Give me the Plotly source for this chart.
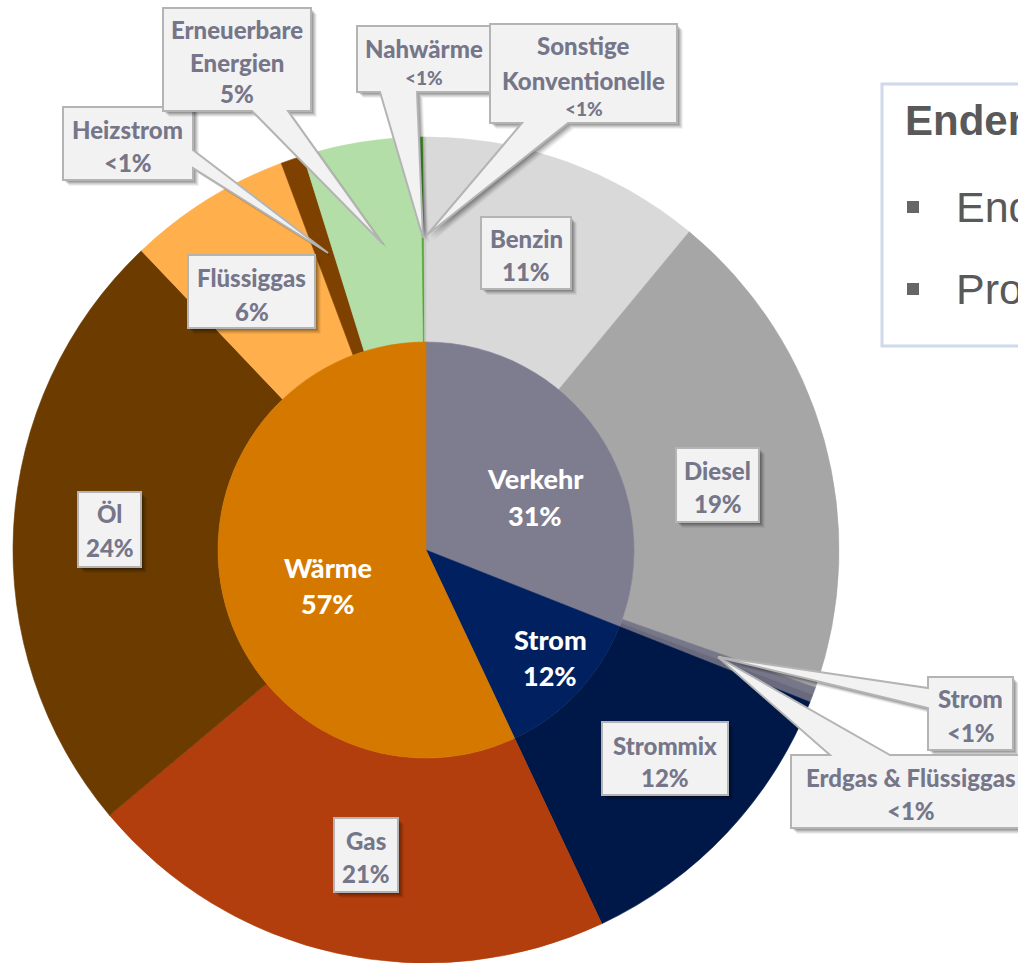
import plotly.graph_objects as go

# ---- data -------------------------------------------------------------
sectors = ["Verkehr", "Strom", "Wärme"]
sector_colors = ["#7e7c8f", "#002060", "#d47800"]

carriers = ["Benzin", "Diesel", "Strom", "Erdgas & Flüssiggas",
            "Strommix",
            "Gas", "Öl", "Flüssiggas", "Heizstrom", "Erneuerbare Energien",
            "Nahwärme", "Sonstige Konventionelle"]
carrier_sector = ["Verkehr", "Verkehr", "Verkehr", "Verkehr",
                  "Strom",
                  "Wärme", "Wärme", "Wärme", "Wärme", "Wärme",
                  "Wärme", "Wärme"]
carrier_share = [11.0, 19.4, 0.3, 0.3,
                 12.0,
                 20.9, 24.0, 6.4, 0.9, 4.6,
                 0.1, 0.1]
carrier_colors = ["#d9d9d9", "#a6a6a6", "#77778a", "#6a6a7e",
                  "#001848",
                  "#b13e0c", "#6b3b00", "#ffb04c", "#7f4100", "#b3dea8",
                  "#4ea72e", "#c9c9c9"]

sector_share = [sum(v for v, p in zip(carrier_share, carrier_sector) if p == s)
                for s in sectors]


def pct(v):
    return "<1%" if v < 1 else f"{round(v)}%"


# ---- geometry (pixels) ------------------------------------------------
W, H = 1018, 963
CX, CY = 426, 550
R_OUT, R_IN = 413, 208


def px(x, y):
    return x / W, 1 - y / H


fig = go.Figure()

fig.add_trace(go.Pie(
    labels=carriers, values=carrier_share, sort=False,
    direction="clockwise", rotation=0, hole=R_IN / R_OUT,
    marker=dict(colors=carrier_colors,
                line=dict(color=carrier_colors, width=0.6)),
    textinfo="none", hoverinfo="label+percent", showlegend=False,
    domain=dict(x=[(CX - R_OUT) / W, (CX + R_OUT) / W],
                y=[(H - CY - R_OUT) / H, (H - CY + R_OUT) / H]),
))

fig.add_trace(go.Pie(
    labels=sectors, values=sector_share, sort=False,
    direction="clockwise", rotation=0,
    marker=dict(colors=sector_colors,
                line=dict(color=sector_colors, width=0.6)),
    textinfo="none", hoverinfo="label+percent", showlegend=False,
    domain=dict(x=[(CX - R_IN) / W, (CX + R_IN) / W],
                y=[(H - CY - R_IN) / H, (H - CY + R_IN) / H]),
))

shapes = []
annotations = []

LABEL_FONT = "Lato, 'Open Sans', sans-serif"
LABEL_COLOR = "#76768a"

# white labels on the inner ring
inner_pos = {"Verkehr": (535, 478, 515), "Strom": (550, 639, 675),
             "Wärme": (328, 567, 603)}
for name, val in zip(sectors, sector_share):
    x, y1, y2 = inner_pos[name]
    for txt, yy in ((name, y1), (pct(val), y2)):
        ax, ay = px(x, yy)
        annotations.append(dict(
            x=ax, y=ay, xref="paper", yref="paper", text=txt,
            showarrow=False, xanchor="center", yanchor="middle",
            font=dict(family=LABEL_FONT, size=27, color="white", weight=900)))

# callout boxes: box (x0, y0, x1, y1), text line centres, optional pointer
callouts = {
    "Benzin": dict(box=(481, 217, 571, 289), lines=(238, 271)),
    "Diesel": dict(box=(676, 448, 759, 522), lines=(471, 503)),
    "Strommix": dict(box=(602, 722, 728, 795), lines=(745, 777)),
    "Gas": dict(box=(334, 818, 398, 892), lines=(840, 873)),
    "Öl": dict(box=(78, 492, 141, 567), lines=(513, 547)),
    "Flüssiggas": dict(box=(188, 255, 315, 328), lines=(278, 311)),
    "Heizstrom": dict(box=(63, 107, 193, 180), lines=(129, 162),
                      tail=("right", 150, 168, (328, 253))),
    "Erneuerbare Energien": dict(box=(163, 8, 311, 111), lines=(29, 62, 94),
                                 wrap=True,
                                 tail=("bottom", 252, 288, (382, 243))),
    "Nahwärme": dict(box=(357, 26, 490, 92), lines=(48, 77), small=True,
                     tail=("bottom", 380, 417, (423, 238))),
    "Sonstige Konventionelle": dict(box=(490, 24, 677, 123),
                                    lines=(46, 80, 108), small=True, wrap=True,
                                    tail=("bottom", 522, 568, (427, 235))),
    "Strom": dict(box=(928, 677, 1013, 750), lines=(698, 732),
                  tail=("left", 688, 708, (718, 657))),
    "Erdgas & Flüssiggas": dict(box=(791, 755, 1030, 828), lines=(777, 810),
                                tail=("top", 830, 890, (718, 657))),
}


def callout_path(spec, dx=0, dy=0):
    x0, y0, x1, y1 = spec["box"]
    pts = [(x0, y0), (x1, y0), (x1, y1), (x0, y1)]
    tail = spec.get("tail")
    if tail:
        side, a, b, (tx, ty) = tail
        if side == "bottom":
            pts = [(x0, y0), (x1, y0), (x1, y1), (b, y1), (tx, ty), (a, y1), (x0, y1)]
        elif side == "top":
            pts = [(x0, y0), (a, y0), (tx, ty), (b, y0), (x1, y0), (x1, y1), (x0, y1)]
        elif side == "right":
            pts = [(x0, y0), (x1, y0), (x1, a), (tx, ty), (x1, b), (x1, y1), (x0, y1)]
        elif side == "left":
            pts = [(x0, y0), (x1, y0), (x1, y1), (x0, y1), (x0, b), (tx, ty), (x0, a)]
    coords = [px(x + dx, y + dy) for x, y in pts]
    return "M" + " L".join(f"{a:.5f},{b:.5f}" for a, b in coords) + " Z"


for name, val in zip(carriers, carrier_share):
    spec = callouts[name]
    # soft drop shadow
    for off, alpha in ((6, 0.05), (5, 0.07), (4, 0.09), (3, 0.11), (2, 0.12)):
        shapes.append(dict(type="path", xref="paper", yref="paper",
                           path=callout_path(spec, off, off),
                           fillcolor=f"rgba(0,0,0,{alpha})",
                           line=dict(width=0), layer="above"))
    shapes.append(dict(type="path", xref="paper", yref="paper",
                       path=callout_path(spec), fillcolor="#f2f2f2",
                       line=dict(color="#b4b4b4", width=2), layer="above"))
    words = name.split(" ") if spec.get("wrap") else [name]
    texts = words + [pct(val)]
    cx = (spec["box"][0] + spec["box"][2]) / 2
    for i, (txt, yy) in enumerate(zip(texts, spec["lines"])):
        is_val = i == len(texts) - 1
        size = 19 if (is_val and spec.get("small")) else 24
        ax, ay = px(cx, yy)
        annotations.append(dict(
            x=ax, y=ay, xref="paper", yref="paper", text=txt,
            showarrow=False, xanchor="center", yanchor="middle",
            font=dict(family=LABEL_FONT, size=size, color=LABEL_COLOR,
                      weight=900)))

# text panel at the right edge
bx0, by0 = px(882, 84)
bx1, by1 = px(1040, 346)
shapes.append(dict(type="rect", xref="paper", yref="paper",
                   x0=bx0, y0=by1, x1=bx1, y1=by0, fillcolor="white",
                   line=dict(color="#cfd9ea", width=3), layer="above"))
tx, ty = px(903, 120)
annotations.append(dict(x=tx, y=ty, xref="paper", yref="paper",
                        text="<b>Endenergieverbrauch</b>", showarrow=False,
                        xanchor="left", yanchor="middle",
                        font=dict(family="Liberation Sans, Arial", size=42,
                                  color="#595959")))
for yy, txt in ((207, "Endenergie nach Sektoren"), (289, "Prozentuale Anteile")):
    s0 = px(907, yy - 6)
    s1 = px(919, yy + 6)
    shapes.append(dict(type="rect", xref="paper", yref="paper",
                       x0=s0[0], y0=s1[1], x1=s1[0], y1=s0[1],
                       fillcolor="#666666", line=dict(width=0), layer="above"))
    lx, ly = px(954, yy)
    annotations.append(dict(x=lx, y=ly, xref="paper", yref="paper", text=txt,
                            showarrow=False, xanchor="left", yanchor="middle",
                            font=dict(family="Liberation Sans, Arial", size=43,
                                      color="#595959")))

fig.update_layout(
    width=W, height=H, margin=dict(l=0, r=0, t=0, b=0),
    paper_bgcolor="white", plot_bgcolor="white",
    shapes=shapes, annotations=annotations, showlegend=False,
)

fig.write_html("out.html")
